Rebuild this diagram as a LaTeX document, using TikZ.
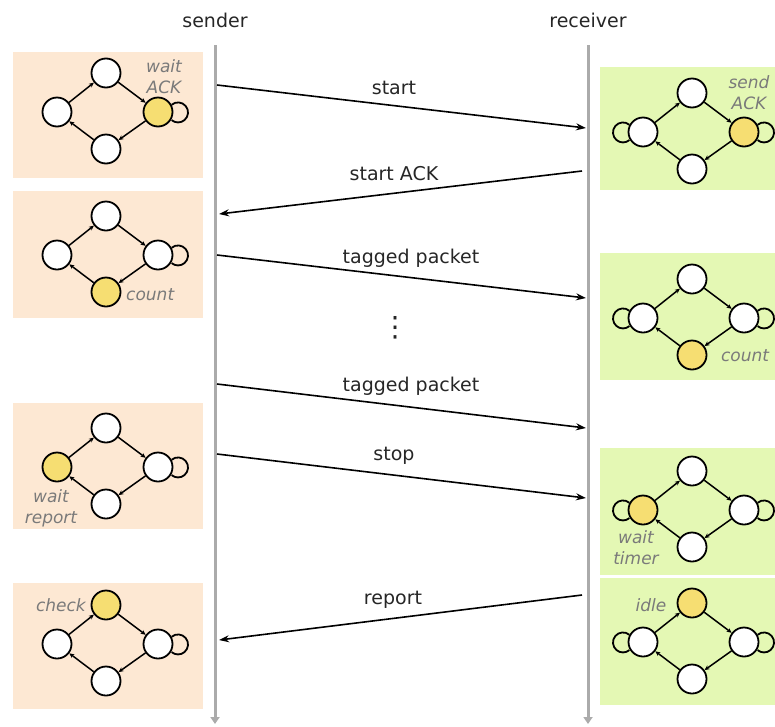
\documentclass[tikz,border=0pt]{standalone}
\usepackage{fontspec}
\setmainfont{DejaVu Sans}
\usetikzlibrary{arrows.meta}
\definecolor{peach}{HTML}{FDE8D3}
\definecolor{lime}{HTML}{E4F8B4}
\definecolor{stateyellow}{HTML}{F6DE72}
\definecolor{lanegray}{HTML}{ABABAB}
\definecolor{labelgray}{HTML}{7A7A7A}
\definecolor{textdark}{HTML}{262626}
\tikzset{
  state/.style={circle, draw=black, line width=1.8pt, fill=white, minimum size=29pt, inner sep=0pt},
  hot/.style={fill=stateyellow},
  fsmedge/.style={line width=1.5pt, -{Stealth[length=5pt,width=4.5pt]}},
  loopline/.style={line width=1.8pt},
  lane/.style={draw=lanegray, line width=3pt, -{Triangle[length=7pt,width=9pt]}},
  msg/.style={line width=1.6pt, -{Stealth[length=10pt,width=7pt]}},
  msglabel/.style={font=\fontsize{19}{22}\selectfont, text=textdark, inner sep=0pt},
  dotslabel/.style={font=\fontsize{28}{30}\selectfont, text=textdark, inner sep=0pt},
  statelabel/.style={font=\itshape\fontsize{17}{21}\selectfont, text=labelgray, inner sep=0pt, align=center},
  sendbox/.style={fill=peach, draw=none},
  recvbox/.style={fill=lime, draw=none},
}
% #1 prefix, #2 cx, #3 cy, #4..#7 extra styles for top, left, right, bottom
\newcommand\fsmgraph[7]{%
  \node[state,#4] (#1t) at (#2,#3-39) {};
  \node[state,#5] (#1l) at (#2-49,#3) {};
  \node[state,#6] (#1r) at (#2+52,#3) {};
  \node[state,#7] (#1b) at (#2,#3+37) {};
  \draw[fsmedge] (#1l) -- (#1t);
  \draw[fsmedge] (#1t) -- (#1r);
  \draw[fsmedge] (#1r) -- (#1b);
  \draw[fsmedge] (#1b) -- (#1l);
}
\newcommand\rightloop[1]{\draw[loopline] (#1.28) arc[start angle=-130, end angle=130, radius=10];}
\newcommand\leftloop[1]{\draw[loopline] (#1.152) arc[start angle=-50, end angle=-310, radius=10];}
\begin{document}
\begin{tikzpicture}[x=1pt, y=-1pt]
\useasboundingbox (0,0) rectangle (775,726);
% boxes
\fill[sendbox] (13,52) rectangle (203,178);
\fill[sendbox] (13,191) rectangle (203,318);
\fill[sendbox] (13,403) rectangle (203,529);
\fill[sendbox] (13,583) rectangle (203,709);
\fill[recvbox] (600,67) rectangle (775,190);
\fill[recvbox] (600,253) rectangle (775,380);
\fill[recvbox] (600,448) rectangle (775,575);
\fill[recvbox] (600,578) rectangle (775,705);
% headings and lanes
\node[msglabel] (sender) at (215,20) {sender};
\node[msglabel] (receiver) at (588,20) {receiver};
\coordinate (sTop) at (215,45);
\coordinate (sBot) at (215,724);
\coordinate (rTop) at (588,45);
\coordinate (rBot) at (588,724);
\draw[lane] (sTop) -- (sBot);
\draw[lane] (rTop) -- (rBot);
% sender machines
\fsmgraph{sa}{106}{112}{}{}{hot}{}
\rightloop{sar}
\node[statelabel] (saLab) at (164,77) {wait\\ACK};
\fsmgraph{sb}{106}{255}{}{}{}{hot}
\rightloop{sbr}
\node[statelabel, anchor=west] (sbLab) at (126,295) {count};
\fsmgraph{sc}{106}{467}{}{hot}{}{}
\rightloop{scr}
\node[statelabel] (scLab) at (51,508) {wait\\report};
\fsmgraph{sd}{106}{644}{hot}{}{}{}
\rightloop{sdr}
\node[statelabel, anchor=east] (sdLab) at (86,605) {check};
% receiver machines
\fsmgraph{ra}{692}{132}{}{}{hot}{}
\leftloop{ral}\rightloop{rar}
\node[statelabel] (raLab) at (749,93) {send\\ACK};
\fsmgraph{rb}{692}{318}{}{}{}{hot}
\leftloop{rbl}\rightloop{rbr}
\node[statelabel] (rbLab) at (745,356) {count};
\fsmgraph{rc}{692}{510}{}{hot}{}{}
\leftloop{rcl}\rightloop{rcr}
\node[statelabel] (rcLab) at (636,548) {wait\\timer};
\fsmgraph{rd}{692}{642}{hot}{}{}{}
\leftloop{rdl}\rightloop{rdr}
\node[statelabel] (rdLab) at (651,605) {idle};
% messages
\coordinate (m1a) at (217,85);  \coordinate (m1b) at (586,128);
\coordinate (m2a) at (582,171); \coordinate (m2b) at (219,214);
\coordinate (m3a) at (217,255); \coordinate (m3b) at (586,298);
\coordinate (m4a) at (217,384); \coordinate (m4b) at (586,428);
\coordinate (m5a) at (217,454); \coordinate (m5b) at (586,498);
\coordinate (m6a) at (582,595); \coordinate (m6b) at (219,640);
\draw[msg] (m1a) -- (m1b);
\draw[msg] (m2a) -- (m2b);
\draw[msg] (m3a) -- (m3b);
\draw[msg] (m4a) -- (m4b);
\draw[msg] (m5a) -- (m5b);
\draw[msg] (m6a) -- (m6b);
\node[msglabel] (l1) at (394,88) {start};
\node[msglabel] (l2) at (394,174) {start ACK};
\node[msglabel] (l3) at (411,258) {tagged packet};
\node[dotslabel] (dots) at (395,328) {⋮};
\node[msglabel] (l4) at (411,386) {tagged packet};
\node[msglabel] (l5) at (394,456) {stop};
\node[msglabel] (l6) at (393,600) {report};
\end{tikzpicture}
\end{document}
